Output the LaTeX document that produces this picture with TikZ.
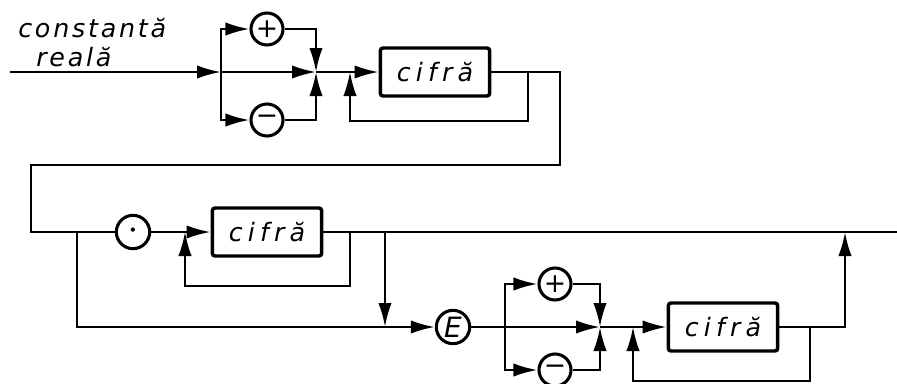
\documentclass[tikz,border=0pt]{standalone}
\usepackage{fontspec}
\setmainfont{DejaVu Sans}
\newfontfamily\diafont[LetterSpace=20]{DejaVu Sans}
\newfontfamily\titlefont[LetterSpace=11]{DejaVu Sans}
\usetikzlibrary{arrows.meta, positioning, calc}

\begin{document}
\begin{tikzpicture}[x=0.75pt, y=-0.75pt,
  box/.style={rectangle, draw, line width=2.6pt, rounded corners=2pt, minimum width=82pt, minimum height=36pt, inner sep=0pt, font=\diafont\itshape\fontsize{19}{22}\selectfont},
  op/.style={circle, draw, line width=2.3pt, minimum size=24pt, inner sep=0pt, font=\fontsize{20}{20}\selectfont},
  label/.style={anchor=base west, inner sep=0pt, font=\titlefont\itshape\fontsize{19}{22}\selectfont},
  mainline/.style={line width=1.8pt},
  loopline/.style={line width=1.4pt},
  arrow/.style={-{Latex[length=18pt,width=10pt]}}]
  \useasboundingbox (0,0) rectangle (897,383);

  % title
  \node[label] (title) at (18,37) {constantă};
  \node[label] (title2) at (36,66) {reală};

  % first row: sign and digits
  \coordinate (in) at (10,72);
  \coordinate (fork1) at (221,72);
  \coordinate (join1) at (316,72);
  \node[op] (plus1) at (267,29) {+};
  \node[op] (minus1) at (267,120) {\raisebox{1pt}{−}};
  \coordinate (ret1) at (350,72);
  \node[box] (digit1) at (435,72) {cifră};
  \coordinate (loop1) at (528,72);
  \coordinate (loop1b) at (528,121);
  \coordinate (turn1) at (560,72);
  \coordinate (back1) at (31,165);

  \draw[mainline, arrow] (in) -- (fork1);
  \draw[mainline, arrow] (fork1) -- (join1);
  \draw[mainline, arrow] (fork1) |- (plus1);
  \draw[mainline, arrow] (fork1) |- (minus1);
  \draw[mainline, arrow] (plus1) -| (join1);
  \draw[mainline, arrow] (minus1) -| (join1);
  \draw[mainline, arrow] (join1) -- (digit1);
  \draw[loopline, arrow] (loop1) -- (loop1b) -| (ret1);

  % second row: fraction
  \coordinate (start2) at (31,232);
  \coordinate (fork2) at (77,232);
  \node[op, minimum size=25pt] (dot) at (133,232) {\fontsize{11}{11}\selectfont\textbullet};
  \coordinate (ret2) at (185,232);
  \node[box] (digit2) at (267,232) {cifră};
  \coordinate (loop2) at (350,232);
  \coordinate (loop2b) at (350,286);
  \coordinate (drop) at (385,232);
  \coordinate (merge) at (385,327);
  \coordinate (exit1) at (845,232);
  \coordinate (out) at (897,232);

  \draw[mainline] (digit1) -- (turn1) |- (back1) -- (start2) -- (dot);
  \draw[mainline, arrow] (dot) -- (digit2);
  \draw[mainline] (digit2) -- (out);
  \draw[loopline, arrow] (loop2) -- (loop2b) -| (ret2);
  \draw[mainline, arrow] (drop) -- (merge);

  % third row: exponent
  \node[op, minimum size=25pt, font=\diafont\itshape\fontsize{21}{21}\selectfont] (exp) at (453,327) {E};
  \coordinate (fork3) at (505,327);
  \coordinate (join3) at (600,327);
  \node[op] (plus2) at (555,284) {+};
  \node[op] (minus2) at (555,370) {\raisebox{1pt}{−}};
  \coordinate (ret3) at (633,327);
  \node[box] (digit3) at (723,327) {cifră};
  \coordinate (loop3) at (810,327);
  \coordinate (loop3b) at (810,381);

  \draw[mainline, arrow] (fork2) |- (exp);
  \draw[mainline] (exp) -- (fork3);
  \draw[mainline, arrow] (fork3) -- (join3);
  \draw[mainline, arrow] (fork3) |- (plus2);
  \draw[mainline, arrow] (fork3) |- (minus2);
  \draw[mainline, arrow] (plus2) -| (join3);
  \draw[mainline, arrow] (minus2) -| (join3);
  \draw[mainline, arrow] (join3) -- (digit3);
  \draw[loopline, arrow] (loop3) -- (loop3b) -| (ret3);
  \draw[mainline, arrow] (digit3) -| (exit1);
\end{tikzpicture}
\end{document}
